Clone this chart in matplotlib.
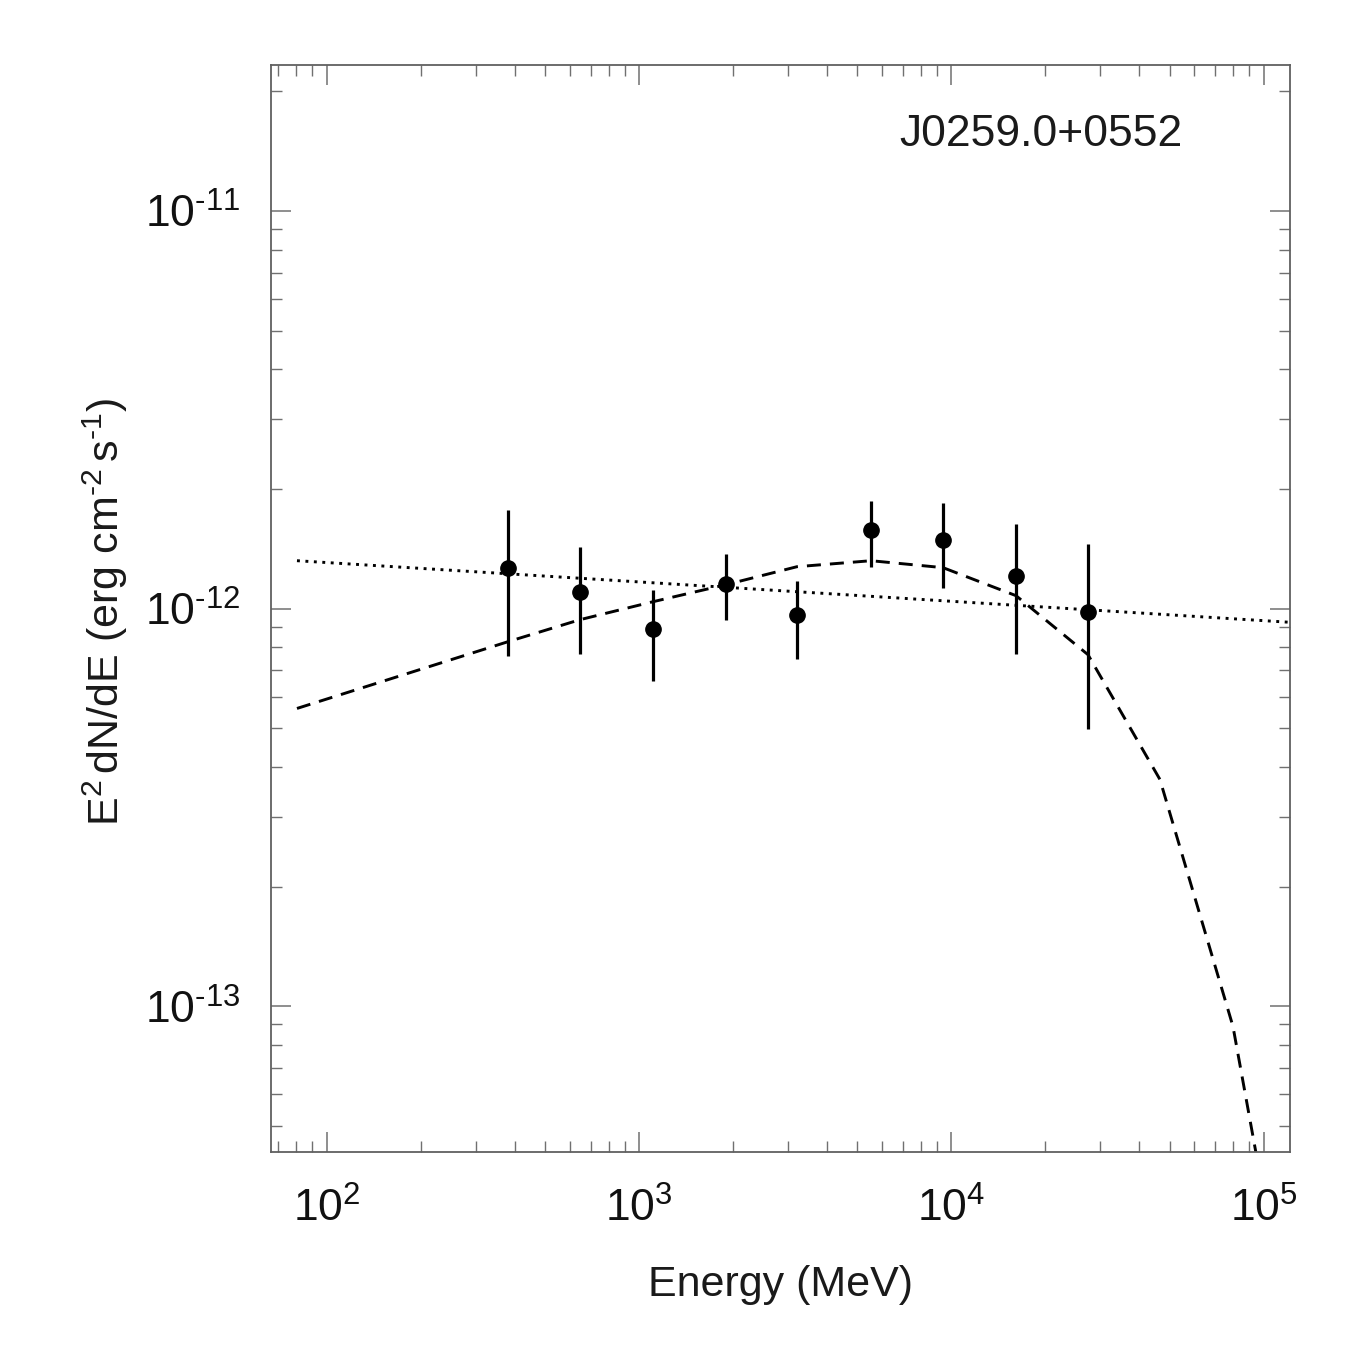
import numpy as np
import matplotlib
matplotlib.use("Agg")
import matplotlib.pyplot as plt
from matplotlib.ticker import LogLocator, FixedLocator, FixedFormatter, NullFormatter

plt.rcParams['font.family'] = ['Liberation Sans', 'DejaVu Sans']
plt.rcParams['mathtext.fontset'] = 'custom'
plt.rcParams['mathtext.rm'] = 'Liberation Sans'
plt.rcParams['mathtext.it'] = 'Liberation Sans:italic'

# Data points (MeV, erg cm^-2 s^-1)
energy = [381, 647, 1109, 1900, 3206, 5534, 9406, 16120, 27400]
flux = [1.266e-12, 1.099e-12, 8.87e-13, 1.154e-12, 9.66e-13,
        1.573e-12, 1.485e-12, 1.206e-12, 9.81e-13]
flux_hi = [1.774e-12, 1.426e-12, 1.116e-12, 1.369e-12, 1.176e-12,
           1.868e-12, 1.844e-12, 1.636e-12, 1.457e-12]
flux_lo = [7.59e-13, 7.69e-13, 6.57e-13, 9.38e-13, 7.48e-13,
           1.273e-12, 1.127e-12, 7.70e-13, 4.98e-13]

# Power-law model (dotted)
pl_energy = [80.3, 1.215e5]
pl_flux = [1.320e-12, 9.24e-13]

# Curved model (dashed)
cut_energy = [80.3, 381, 647, 1109, 1900, 3206, 5534, 9406, 16120,
              27400, 46560, 79800, 135700]
cut_flux = [5.61e-13, 8.26e-13, 9.38e-13, 1.041e-12, 1.149e-12, 1.275e-12,
            1.320e-12, 1.268e-12, 1.078e-12, 7.66e-13, 3.72e-13, 8.90e-14, 9.0e-15]

source_name = "J0259.0+0552"
xtick_exp = ['2', '3', '4', '5']
ytick_exp = ['-13', '-12', '-11']


def pow_label(e):
    e = e.replace('-', r'\text{-}')
    return r'$\mathregular{10^{' + e + '}}$'


fig = plt.figure(figsize=(13.57, 13.57), dpi=100)
ax = fig.add_axes([0.1997, 0.1511, 0.9506 - 0.1997, 0.9521 - 0.1511])
ax.set_xscale('log')
ax.set_yscale('log')
ax.set_xlim(66.3, 1.215e5)
ax.set_ylim(4.30e-14, 2.33e-11)

ax.plot(pl_energy, pl_flux, color='black', lw=2.1, linestyle=(0, (1, 1.9)))
ax.plot(cut_energy, cut_flux, color='black', lw=2.1, linestyle=(0, (4.8, 3.1)))

yerr = [np.array(flux) - np.array(flux_lo), np.array(flux_hi) - np.array(flux)]
ax.errorbar(energy, flux, yerr=yerr, fmt='o', color='black', ms=11,
            elinewidth=2.3, capsize=0)

ax.text(1041 / 1357, 1 - 134 / 1357, source_name, transform=fig.transFigure,
        ha='center', va='center', fontsize=32, color='#1a1a1a')

# axes styling
for sp in ax.spines.values():
    sp.set_color('#606060')
    sp.set_linewidth(1.3)

ax.xaxis.set_major_locator(FixedLocator([1e2, 1e3, 1e4, 1e5]))
ax.xaxis.set_major_formatter(FixedFormatter([pow_label(e) for e in xtick_exp]))
ax.yaxis.set_major_locator(FixedLocator([1e-13, 1e-12, 1e-11]))
ax.yaxis.set_major_formatter(FixedFormatter([pow_label(e) for e in ytick_exp]))
ax.xaxis.set_minor_locator(LogLocator(base=10, subs=np.arange(2, 10), numticks=20))
ax.yaxis.set_minor_locator(LogLocator(base=10, subs=np.arange(2, 10), numticks=20))
ax.xaxis.set_minor_formatter(NullFormatter())
ax.yaxis.set_minor_formatter(NullFormatter())

ax.tick_params(which='both', direction='in', top=True, right=True, color='#707070')
ax.tick_params(which='major', length=14.5, width=1.1, labelsize=32, labelcolor='#111111')
ax.tick_params(which='minor', length=7.6, width=1.0)
ax.tick_params(axis='x', which='major', pad=26)
ax.tick_params(axis='y', which='major', pad=22)

fig.text(780 / 1357, 1 - 1285 / 1357, 'Energy (MeV)', ha='center', va='center',
         fontsize=31, color='#1a1a1a')
fig.text(105 / 1357, 1 - 612 / 1357,
         r'$\mathregular{E^{2}\,dN/dE\ (erg\ cm^{\text{-}2}\,s^{\text{-}1})}$',
         ha='center', va='center', rotation=90, fontsize=31, color='#1a1a1a')

fig.savefig('out.png', dpi=100, facecolor='white')
